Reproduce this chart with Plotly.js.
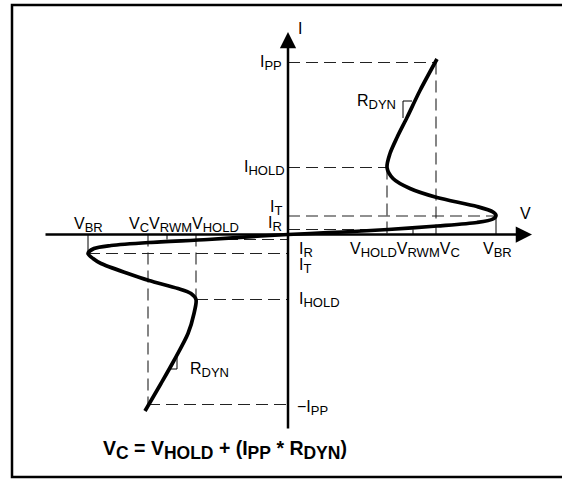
<!DOCTYPE html>
<html>
<head>
<meta charset="utf-8">
<script src="https://cdn.plot.ly/plotly-3.0.1.min.js"></script>
<style>
  html, body { margin: 0; padding: 0; background: #fff; }
  #chart { width: 562px; height: 479px; }
</style>
</head>
<body>
<div id="chart"></div>
<script>
// Key levels, positive quadrant (V right, I up)
var V_BR = 208, V_C = 148, V_RWM = 125, V_HOLD = 99;
var I_PP = 172, I_HOLD = 67, I_T = 18.5, I_R = 5;

// Key levels, negative quadrant
var NV_BR = -200, NV_C = -140, NV_RWM = -121, NV_HOLD = -92;
var NI_PP = -170, NI_HOLD = -65, NI_T = -19, NI_R = -5;

// I-V curve
var posV = [0, 22, 55, 100, 149, 189, 205, 208, 205, 189, 149, 122, 105, 99, 102, 109, 119, 132, 149];
var posI = [0, 1, 2.5, 5, 8.5, 12, 15.5, 19, 22.5, 28, 37, 46, 56, 67, 81, 97, 117, 144, 175.5];
var negV = [0, -27, -80, -139, -177, -194, -200, -195, -187, -160, -139, -110, -97, -92, -94, -100, -114, -127, -143];
var negI = [0, -1.5, -5, -8, -11, -14, -19, -24, -29, -39, -46, -54, -59, -65, -79, -99, -126, -149, -176.5];

// Axis extents
var vMin = -244, vMax = 244, iMin = -195.5, iMax = 202.5;

// dashed guide lines
var dashedSegs = [
  [[0, I_PP], [V_C, I_PP]], [[V_C, I_PP], [V_C, 0]],
  [[0, I_HOLD], [V_HOLD, I_HOLD]], [[V_HOLD, I_HOLD], [V_HOLD, 0]],
  [[0, I_T], [V_BR, I_T]], [[0, I_R], [V_HOLD, I_R]],
  [[-80, NI_R], [0, NI_R]], [[NV_BR, NI_T], [0, NI_T]],
  [[NV_HOLD, NI_HOLD], [0, NI_HOLD]], [[NV_HOLD, 0], [NV_HOLD, NI_HOLD]],
  [[NV_C, 0], [NV_C, NI_PP]], [[NV_C, NI_PP], [0, NI_PP]]
];
// thin solid ticks and R_DYN slope markers
var thinSegs = [
  [[V_BR, I_T], [V_BR, 0]], [[V_RWM, I_R], [V_RWM, 0]],
  [[NV_BR, 0], [NV_BR, NI_T]], [[NV_RWM, 0], [NV_RWM, NI_R]],
  [[115, 116.5], [115, 133.5], [124, 133.5]],
  [[-111, -122.5], [-111, -134.5], [-120, -134.5]]
];

function toXY(segs) {
  var x = [], y = [];
  segs.forEach(function (s) {
    s.forEach(function (p) { x.push(p[0]); y.push(p[1]); });
    x.push(null); y.push(null);
  });
  return {x: x, y: y};
}

var dashed = toXY(dashedSegs);
var thin = toXY(thinSegs);

var data = [
  {x: dashed.x, y: dashed.y, mode: 'lines', line: {color: '#222', width: 1.1, dash: '12px,6px'}, hoverinfo: 'skip'},
  {x: thin.x, y: thin.y, mode: 'lines', line: {color: '#000', width: 1}, hoverinfo: 'skip'},
  {x: posV, y: posI, mode: 'lines', line: {color: '#000', width: 3.7, shape: 'spline', smoothing: 0.8}, hoverinfo: 'skip'},
  {x: negV, y: negI, mode: 'lines', line: {color: '#000', width: 3.7, shape: 'spline', smoothing: 0.8}, hoverinfo: 'skip'}
];

// subscript a bit larger than plotly's default 70%
function sb(t, size) {
  return '<sub><span style="font-size:' + (size || 13) + 'px">' + t + '</span></sub>';
}

function label(text, x, y, xanchor, size, bold) {
  return {
    text: bold ? '<b>' + text + '</b>' : text,
    x: x, y: y, xref: 'x', yref: 'y',
    xanchor: xanchor, yanchor: 'middle', showarrow: false,
    font: {family: 'Liberation Sans, Arial, sans-serif', size: size || 16, color: '#000'}
  };
}

var annotations = [
  // axes with arrowheads
  {x: vMax, y: 0, ax: vMin, ay: 0, xref: 'x', yref: 'y', axref: 'x', ayref: 'y', text: '',
   showarrow: true, arrowhead: 2, arrowsize: 1.3, arrowwidth: 2.5, arrowcolor: '#000'},
  {x: 0, y: iMax, ax: 0, ay: iMin, xref: 'x', yref: 'y', axref: 'x', ayref: 'y', text: '',
   showarrow: true, arrowhead: 2, arrowsize: 1.3, arrowwidth: 2.5, arrowcolor: '#000'},
  label('I', 8, 206.5, 'left'),
  label('V', 237, 21.5, 'center'),
  label('I' + sb('PP'), -4, I_PP, 'right'),
  label('I' + sb('HOLD'), -1, I_HOLD, 'right'),
  label('I' + sb('T'), -4, 26.5, 'right'),
  label('I' + sb('R'), -4, 11, 'right'),
  label('I' + sb('R'), 9, -15, 'left'),
  label('I' + sb('T'), 9, -31, 'left'),
  label('I' + sb('HOLD'), 9, NI_HOLD, 'left'),
  label('\u2212I' + sb('PP'), 7, NI_PP - 3, 'left'),
  label('V' + sb('HOLD') + 'V' + sb('RWM') + 'V' + sb('C'), 60, -15.5, 'left'),
  label('V' + sb('BR'), V_BR + 1, -15.5, 'center'),
  label('V' + sb('BR'), NV_BR, 9.5, 'center'),
  label('V' + sb('C') + 'V' + sb('RWM') + 'V' + sb('HOLD'), -161, 9.5, 'left'),
  label('R' + sb('DYN'), 110, 132.5, 'right'),
  label('R' + sb('DYN'), -100, -135.5, 'left'),
  label('V' + sb('C', 17.5) + ' = V' + sb('HOLD', 17.5) + ' + (I' + sb('PP', 17.5) + ' * R' + sb('DYN', 17.5) + ')',
        -63, -215.5, 'center', 19.5, true)
];

var layout = {
  width: 562, height: 479,
  margin: {l: 0, r: 0, t: 0, b: 0},
  paper_bgcolor: '#fff', plot_bgcolor: '#fff',
  showlegend: false,
  xaxis: {range: [-288, 274], visible: false, fixedrange: true},
  yaxis: {range: [-244.5, 234.5], visible: false, fixedrange: true},
  shapes: [
    // outer frame
    {type: 'rect', xref: 'x', yref: 'y', x0: -276, x1: 290, y0: -242.5, y1: 229.5,
     line: {color: '#000', width: 2.5}}
  ],
  annotations: annotations
};

Plotly.newPlot('chart', data, layout, {staticPlot: true, displayModeBar: false});
</script>
</body>
</html>
